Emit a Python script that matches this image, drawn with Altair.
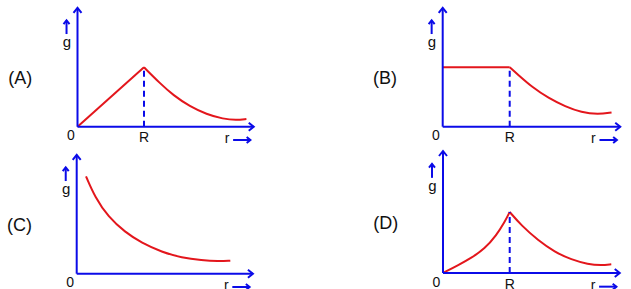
import altair as alt
import pandas as pd

BLUE = "#0b0be8"
RED = "#e3161c"
FONT = "Liberation Sans"

# ---------------- data (r in units of R, g in units of g at surface) ----------------
A_IN_R = [0, 1]
A_IN_G = [0, 1]
A_OUT_R = [1, 1.24, 1.44, 1.69, 1.94, 2.19, 2.39, 2.54]
A_OUT_G = [1, 0.73, 0.53, 0.34, 0.21, 0.13, 0.11, 0.13]

B_IN_R = [0, 1]
B_IN_G = [1, 1]
B_OUT_R = [1, 1.13, 1.33, 1.58, 1.83, 2.07, 2.32, 2.52]
B_OUT_G = [1, 0.87, 0.67, 0.48, 0.34, 0.24, 0.21, 0.24]

C_R = [0.14, 0.275, 0.475, 0.726, 0.977, 1.28, 1.58, 1.88, 2.13, 2.31]
C_G = [1.64, 1.29, 0.955, 0.70, 0.517, 0.365, 0.27, 0.226, 0.209, 0.219]

D_IN_R = [0, 0.225, 0.424, 0.625, 0.8, 0.925, 1]
D_IN_G = [0, 0.126, 0.246, 0.398, 0.618, 0.836, 1]
D_OUT_R = [1, 1.174, 1.424, 1.675, 1.925, 2.174, 2.373, 2.523]
D_OUT_G = [1, 0.78, 0.536, 0.344, 0.218, 0.143, 0.126, 0.143]

PANEL_LETTERS = ["(A)", "(B)", "(C)", "(D)"]
AXIS_LABELS = {"origin": "0", "surface": "R", "x": "r", "y": "g"}

# ---------------- layout (annotation positions in data units) ----------------
X_END, Y_END = 2.65, 2.0
UP = "M-0.8,1L0,0L0.8,1"
RIGHT = "M-1,-0.8L0,0L-1,0.8"


def curve_df(segs):
    rows = []
    for name, (rs, gs) in segs.items():
        for i, (r, g) in enumerate(zip(rs, gs)):
            rows.append({"seg": name, "r": r, "g": g, "o": i})
    return pd.DataFrame(rows)


def panel(segs, letter, ox, oy, sx, sy, W, H, show_R=True):
    xs = alt.Scale(domain=[-ox / sx, (W - ox) / sx], nice=False, zero=False)
    ys = alt.Scale(domain=[-(H - oy) / sy, oy / sy], nice=False, zero=False)
    X = alt.X("r:Q", scale=xs, axis=None)
    Y = alt.Y("g:Q", scale=ys, axis=None)

    curves = alt.Chart(curve_df(segs)).mark_line(
        color=RED, strokeWidth=2, interpolate="basis"
    ).encode(x=X, y=Y, detail="seg:N", order="o:Q")

    axes = pd.DataFrame([
        {"r": 0, "g": 0, "r2": X_END, "g2": 0},
        {"r": 0, "g": 0, "r2": 0, "g2": Y_END},
        {"r": -0.165, "g": 1.56, "r2": -0.165, "g2": 1.79},
        {"r": 2.34, "g": -0.224, "r2": 2.60, "g2": -0.224},
    ])
    axis_rules = alt.Chart(axes).mark_rule(color=BLUE, strokeWidth=2).encode(
        x=X, y=Y, x2="r2:Q", y2="g2:Q"
    )

    heads = pd.DataFrame([
        {"r": X_END, "g": 0, "dir": "right", "sz": 100},
        {"r": 0, "g": Y_END, "dir": "up", "sz": 100},
        {"r": -0.165, "g": 1.79, "dir": "up", "sz": 56},
        {"r": 2.60, "g": -0.224, "dir": "right", "sz": 56},
    ])
    arrow_heads = alt.Chart(heads).mark_point(
        filled=False, opacity=1, strokeWidth=2, color=BLUE
    ).encode(
        x=X, y=Y,
        shape=alt.Shape("dir:N", scale=alt.Scale(domain=["up", "right"], range=[UP, RIGHT]), legend=None),
        size=alt.Size("sz:Q", scale=None, legend=None),
    )

    txt = [
        {"r": -0.86, "g": 0.72, "t": letter, "fs": 18},
        {"r": -0.16, "g": 1.34, "t": AXIS_LABELS["y"], "fs": 15},
        {"r": -0.10, "g": -0.225, "t": AXIS_LABELS["origin"], "fs": 14},
        {"r": 2.25, "g": -0.275, "t": AXIS_LABELS["x"], "fs": 14},
    ]
    if show_R:
        txt.append({"r": 1.0, "g": -0.26, "t": AXIS_LABELS["surface"], "fs": 14})
    texts = alt.Chart(pd.DataFrame(txt)).mark_text(
        font=FONT, color="#111111", baseline="alphabetic", align="center"
    ).encode(x=X, y=Y, text="t:N", size=alt.Size("fs:Q", scale=None, legend=None))

    layers = [curves]
    if show_R:
        dash = alt.Chart(pd.DataFrame([{"r": 1, "g": 0, "g2": 1}])).mark_rule(
            color=BLUE, strokeWidth=2, strokeDash=[6, 4]
        ).encode(x=X, y=Y, y2="g2:Q")
        layers.append(dash)
    layers += [axis_rules, arrow_heads, texts]
    return alt.layer(*layers).properties(width=W, height=H)


pA = panel({"in": (A_IN_R, A_IN_G), "out": (A_OUT_R, A_OUT_G)}, PANEL_LETTERS[0],
           77.5, 126.7, 66.5, 59.4, 315, 145)
pB = panel({"in": (B_IN_R, B_IN_G), "out": (B_OUT_R, B_OUT_G)}, PANEL_LETTERS[1],
           127.7, 126.7, 67, 59.4, 316, 145)
pC = panel({"all": (C_R, C_G)}, PANEL_LETTERS[2],
           76.7, 126.7, 66.5, 59.4, 315, 144, show_R=False)
pD = panel({"in": (D_IN_R, D_IN_G), "out": (D_OUT_R, D_OUT_G)}, PANEL_LETTERS[3],
           128, 126, 66.7, 61, 316, 144)

chart = alt.concat(pA, pB, pC, pD, columns=2, spacing=0).properties(
    padding=0, background="white"
).configure_view(stroke=None)

chart.save("out.html", embed_options={"renderer": "svg", "actions": False})
